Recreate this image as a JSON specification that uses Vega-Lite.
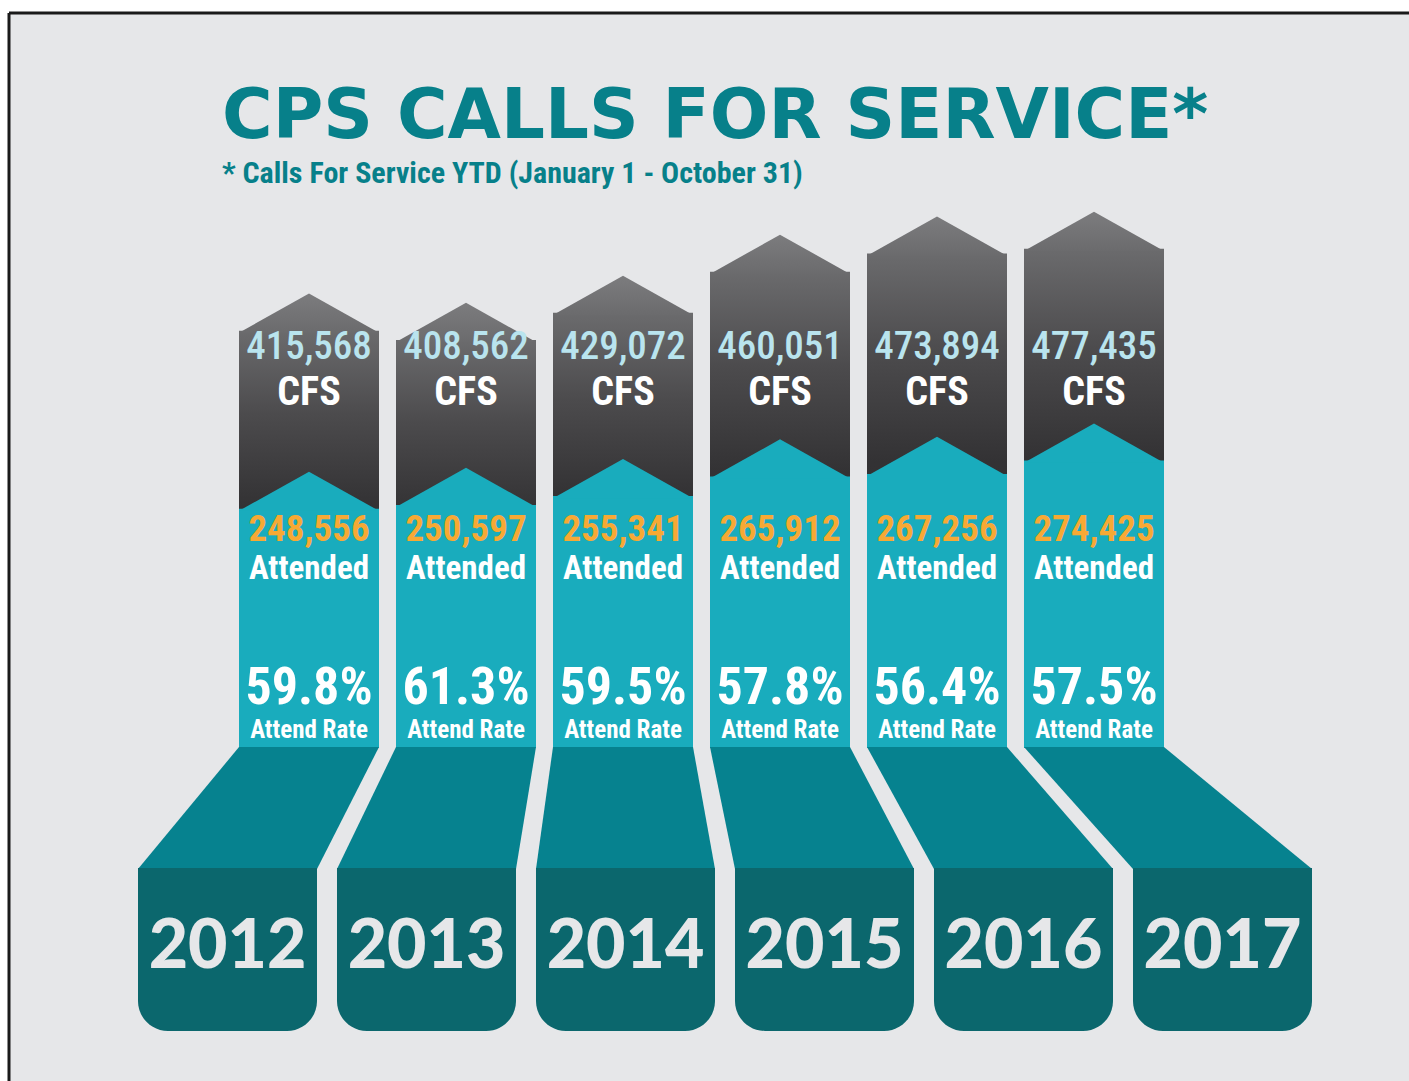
{
  "$schema": "https://vega.github.io/schema/vega-lite/v6.json",
  "width": 1400,
  "height": 1068,
  "autosize": {"type": "none"},
  "padding": {"left": 9, "top": 13, "right": 0, "bottom": 0},
  "background": "#ffffff",
  "config": {
    "view": {"fill": "#e6e7e9", "stroke": "#1a1a1a", "strokeWidth": 3, "strokeDash": [1400, 2468, 1068, 0]}
  },
  "title": {
    "text": "CPS CALLS FOR SERVICE*",
    "subtitle": "* Calls For Service YTD (January 1 - October 31)",
    "anchor": "start",
    "frame": "group",
    "offset": -176,
    "dx": 213,
    "font": "DejaVu Sans",
    "fontSize": 69,
    "fontWeight": "bold",
    "color": "#07808a",
    "subtitleFont": "Roboto Condensed, Liberation Sans Narrow, DejaVu Sans Condensed, Roboto, sans-serif",
    "subtitleFontSize": 30,
    "subtitleFontWeight": "bold",
    "subtitleColor": "#07808a",
    "subtitlePadding": 7
  },
  "data": {
    "values": [
      {"year": "2012", "cfs": 415568, "attended": 248556, "rate": 0.598},
      {"year": "2013", "cfs": 408562, "attended": 250597, "rate": 0.613},
      {"year": "2014", "cfs": 429072, "attended": 255341, "rate": 0.595},
      {"year": "2015", "cfs": 460051, "attended": 265912, "rate": 0.578},
      {"year": "2016", "cfs": 473894, "attended": 267256, "rate": 0.564},
      {"year": "2017", "cfs": 477435, "attended": 274425, "rate": 0.575}
    ]
  },
  "layer": [
    {
      "encoding": {
        "x": {"field": "year", "type": "nominal", "axis": null,
          "scale": {"type": "band", "domain": ["2012", "2013", "2014", "2015", "2016", "2017"], "range": [230, 1155], "paddingInner": 0.10828, "paddingOuter": 0}}
      },
      "layer": [
        {
          "mark": {"type": "bar",
            "fill": {"gradient": "linear", "x1": 0, "y1": 0, "x2": 0, "y2": 1,
              "stops": [{"offset": 0, "color": "#6b6b6d"}, {"offset": 0.2, "color": "#4c4b4d"}, {"offset": 0.42, "color": "#333234"}, {"offset": 1, "color": "#2d2c2e"}]}},
          "encoding": {
            "y": {"field": "cfs", "type": "quantitative", "axis": null, "scale": {"domain": [100000, 500000], "range": [735, 206]}},
            "y2": {"datum": 100000}
          }
        },
        {
          "mark": {"type": "point", "shape": "M-1,0.03L0,-0.53L1,0.03Z", "size": 19600, "filled": true, "opacity": 1, "strokeWidth": 0,
            "fill": {"gradient": "linear", "x1": 0, "y1": 0, "x2": 0, "y2": 1,
              "stops": [{"offset": 0, "color": "#7c7c7e"}, {"offset": 1, "color": "#6b6b6d"}]}},
          "encoding": {
            "y": {"field": "cfs", "type": "quantitative", "axis": null, "scale": {"domain": [100000, 500000], "range": [735, 206]}}
          }
        }
      ]
    },
    {
      "encoding": {
        "x": {"field": "year", "type": "nominal", "axis": null,
          "scale": {"type": "band", "domain": ["2012", "2013", "2014", "2015", "2016", "2017"], "range": [230, 1155], "paddingInner": 0.10828, "paddingOuter": 0}}
      },
      "layer": [
        {
          "mark": {"type": "bar", "color": "#19acbd"},
          "encoding": {
            "y": {"field": "attended", "type": "quantitative", "axis": null, "scale": {"domain": [120000, 300000], "range": [735, 400]}},
            "y2": {"datum": 120000}
          }
        },
        {
          "mark": {"type": "point", "shape": "M-1,0.03L0,-0.53L1,0.03Z", "size": 19600, "filled": true, "opacity": 1, "strokeWidth": 0, "color": "#19acbd"},
          "encoding": {
            "y": {"field": "attended", "type": "quantitative", "axis": null, "scale": {"domain": [120000, 300000], "range": [735, 400]}}
          }
        },
        {
          "mark": {"type": "point", "size": 40000, "filled": true, "opacity": 1, "strokeWidth": 0, "color": "#06828f"},
          "encoding": {
            "y": {"datum": 87760, "type": "quantitative"},
            "shape": {"field": "year", "type": "nominal", "legend": null,
              "scale": {"domain": ["2012", "2013", "2014", "2015", "2016", "2017"],
                "range": [
                  "M-0.7,-0.61L0.7,-0.61L0.08,0.61L-1.71,0.61Z",
                  "M-0.7,-0.61L0.7,-0.61L0.5,0.61L-1.29,0.61Z",
                  "M-0.7,-0.61L0.7,-0.61L0.92,0.61L-0.87,0.61Z",
                  "M-0.7,-0.61L0.7,-0.61L1.34,0.61L-0.45,0.61Z",
                  "M-0.7,-0.61L0.7,-0.61L1.76,0.61L-0.03,0.61Z",
                  "M-0.7,-0.61L0.7,-0.61L2.18,0.61L0.39,0.61Z"
                ]}}
          }
        },
        {
          "mark": {"type": "text", "font": "Roboto Condensed, Liberation Sans Narrow, DejaVu Sans Condensed, Roboto, sans-serif", "fontSize": 39, "fontWeight": 500, "color": "#b9e4ee", "baseline": "alphabetic", "align": "center"},
          "encoding": {"y": {"datum": 329013, "type": "quantitative"}, "text": {"field": "cfs", "type": "quantitative", "format": ","}}
        },
        {
          "mark": {"type": "text", "font": "Roboto Condensed, Liberation Sans Narrow, DejaVu Sans Condensed, Roboto, sans-serif", "fontSize": 40, "fontWeight": "bold", "color": "#ffffff", "baseline": "alphabetic", "align": "center"},
          "encoding": {"y": {"datum": 304297, "type": "quantitative"}, "text": {"value": "CFS"}}
        },
        {
          "mark": {"type": "text", "font": "Roboto Condensed, Liberation Sans Narrow, DejaVu Sans Condensed, Roboto, sans-serif", "fontSize": 37, "fontWeight": "bold", "color": "#f7a934", "baseline": "alphabetic", "align": "center"},
          "encoding": {"y": {"datum": 231223, "type": "quantitative"}, "text": {"field": "attended", "type": "quantitative", "format": ","}}
        },
        {
          "mark": {"type": "text", "font": "Roboto Condensed, Liberation Sans Narrow, DejaVu Sans Condensed, Roboto, sans-serif", "fontSize": 33, "fontWeight": "bold", "color": "#ffffff", "baseline": "alphabetic", "align": "center"},
          "encoding": {"y": {"datum": 210805, "type": "quantitative"}, "text": {"value": "Attended"}}
        },
        {
          "mark": {"type": "text", "font": "Roboto Condensed, Liberation Sans Narrow, DejaVu Sans Condensed, Roboto, sans-serif", "fontSize": 52, "fontWeight": "bold", "color": "#ffffff", "baseline": "alphabetic", "align": "center"},
          "encoding": {"y": {"datum": 143642, "type": "quantitative"}, "text": {"field": "rate", "type": "quantitative", "format": ".1%"}}
        },
        {
          "mark": {"type": "text", "font": "Roboto Condensed, Liberation Sans Narrow, DejaVu Sans Condensed, Roboto, sans-serif", "fontSize": 25, "fontWeight": "bold", "color": "#ffffff", "baseline": "alphabetic", "align": "center"},
          "encoding": {"y": {"datum": 125373, "type": "quantitative"}, "text": {"value": "Attend Rate"}}
        }
      ]
    },
    {
      "encoding": {
        "x": {"field": "year", "type": "nominal", "axis": null,
          "scale": {"type": "band", "domain": ["2012", "2013", "2014", "2015", "2016", "2017"], "range": [129, 1303], "paddingInner": 0.1005, "paddingOuter": 0}}
      },
      "layer": [
        {
          "mark": {"type": "bar", "color": "#0b676d", "cornerRadiusBottomLeft": 30, "cornerRadiusBottomRight": 30},
          "encoding": {
            "y": {"datum": 55520, "type": "quantitative", "axis": null, "scale": {"domain": [120000, 300000], "range": [735, 400]}},
            "y2": {"datum": -32060}
          }
        },
        {
          "mark": {"type": "text", "font": "Lato, DejaVu Sans", "fontSize": 68, "fontWeight": 900, "color": "#e6e7e9", "baseline": "alphabetic", "align": "center"},
          "encoding": {
            "y": {"datum": 1790, "type": "quantitative", "axis": null, "scale": {"domain": [120000, 300000], "range": [735, 400]}},
            "text": {"field": "year", "type": "nominal"}
          }
        }
      ]
    }
  ],
  "resolve": {"scale": {"x": "independent", "y": "independent"}}
}
